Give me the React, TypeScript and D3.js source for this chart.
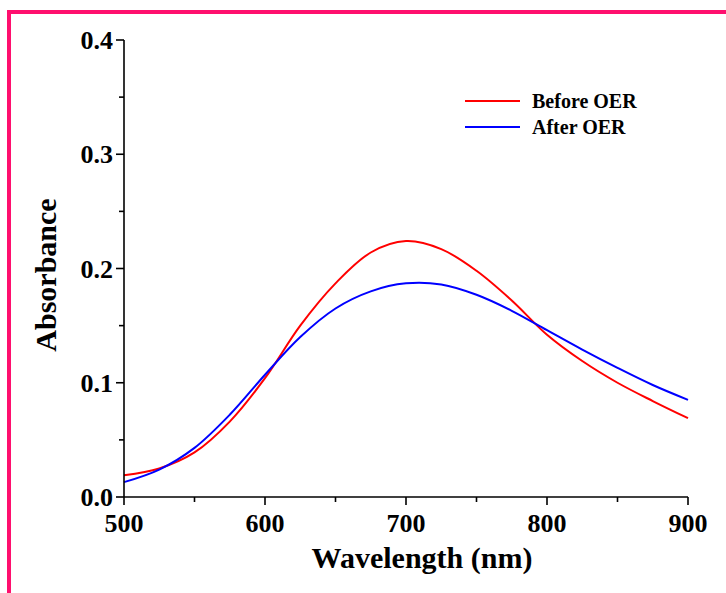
import React from "react";
import * as d3 from "d3";

const wavelengths = [500, 525, 550, 575, 600, 625, 650, 675, 700, 725, 750, 775, 800, 825, 850, 875, 900];
const beforeOER = [0.019, 0.025, 0.039, 0.066, 0.104, 0.150, 0.187, 0.214, 0.224, 0.217, 0.198, 0.172, 0.142, 0.119, 0.100, 0.084, 0.069];
const afterOER = [0.013, 0.024, 0.043, 0.072, 0.107, 0.140, 0.165, 0.180, 0.187, 0.186, 0.177, 0.163, 0.146, 0.129, 0.113, 0.098, 0.085];
const seriesNames = ["Before OER", "After OER"];
const seriesColors = ["#ff0000", "#0000ff"];
const xTicks = [500, 600, 700, 800, 900];
const xMinor = [550, 650, 750, 850];
const yTicks = [0, 0.1, 0.2, 0.3, 0.4];
const yMinor = [0.05, 0.15, 0.25, 0.35];

export default function App() {
  const W = 726, H = 593;
  const x = d3.scaleLinear().domain([500, 900]).range([124, 688]);
  const y = d3.scaleLinear().domain([0, 0.4]).range([497, 40]);
  const line = d3.line<number>()
    .x((_, i) => x(wavelengths[i]))
    .y((d) => y(d))
    .curve(d3.curveCatmullRom.alpha(0.5));
  const series = [beforeOER, afterOER];
  const font = "'Liberation Serif', 'Times New Roman', serif";
  return (
    <svg width={W} height={H} style={{ position: "absolute", left: 0, top: 0, background: "#fff" }}>
      <rect x={0} y={0} width={W} height={H} fill="#fff" />
      <path d={`M9,${H} L9,12 L${W},12`} fill="none" stroke="#ff0f6e" strokeWidth={4} />
      {series.map((s, i) => (
        <path key={i} d={line(s) || ""} fill="none" stroke={seriesColors[i]} strokeWidth={2} />
      ))}
      <line x1={x(500)} x2={x(500)} y1={y(0.4)} y2={y(0)} stroke="#000" strokeWidth={1.6} />
      <line x1={x(500)} x2={x(900)} y1={y(0)} y2={y(0)} stroke="#000" strokeWidth={1.6} />
      {yTicks.map((t) => (
        <g key={t}>
          <line x1={x(500) - 8} x2={x(500)} y1={y(t)} y2={y(t)} stroke="#000" strokeWidth={1.6} />
          <text x={x(500) - 11} y={y(t)} dy="0.35em" textAnchor="end" fontFamily={font} fontWeight="bold" fontSize={26}>
            {t.toFixed(1)}
          </text>
        </g>
      ))}
      {yMinor.map((t) => (
        <line key={t} x1={x(500) - 5} x2={x(500)} y1={y(t)} y2={y(t)} stroke="#000" strokeWidth={1.6} />
      ))}
      {xTicks.map((t) => (
        <g key={t}>
          <line x1={x(t)} x2={x(t)} y1={y(0)} y2={y(0) + 8} stroke="#000" strokeWidth={1.6} />
          <text x={x(t)} y={532} textAnchor="middle" fontFamily={font} fontWeight="bold" fontSize={26}>
            {t}
          </text>
        </g>
      ))}
      {xMinor.map((t) => (
        <line key={t} x1={x(t)} x2={x(t)} y1={y(0)} y2={y(0) + 5} stroke="#000" strokeWidth={1.6} />
      ))}
      <text x={422} y={568} textAnchor="middle" fontFamily={font} fontWeight="bold" fontSize={30}>
        Wavelength (nm)
      </text>
      <text transform="translate(56,275) rotate(-90)" textAnchor="middle" fontFamily={font} fontWeight="bold" fontSize={30}>
        Absorbance
      </text>
      {seriesNames.map((n, i) => (
        <g key={n}>
          <line x1={465} x2={520} y1={101 + i * 26} y2={101 + i * 26} stroke={seriesColors[i]} strokeWidth={2} />
          <text x={532} y={108 + i * 26} fontFamily={font} fontWeight="bold" fontSize={20}>
            {n}
          </text>
        </g>
      ))}
    </svg>
  );
}
